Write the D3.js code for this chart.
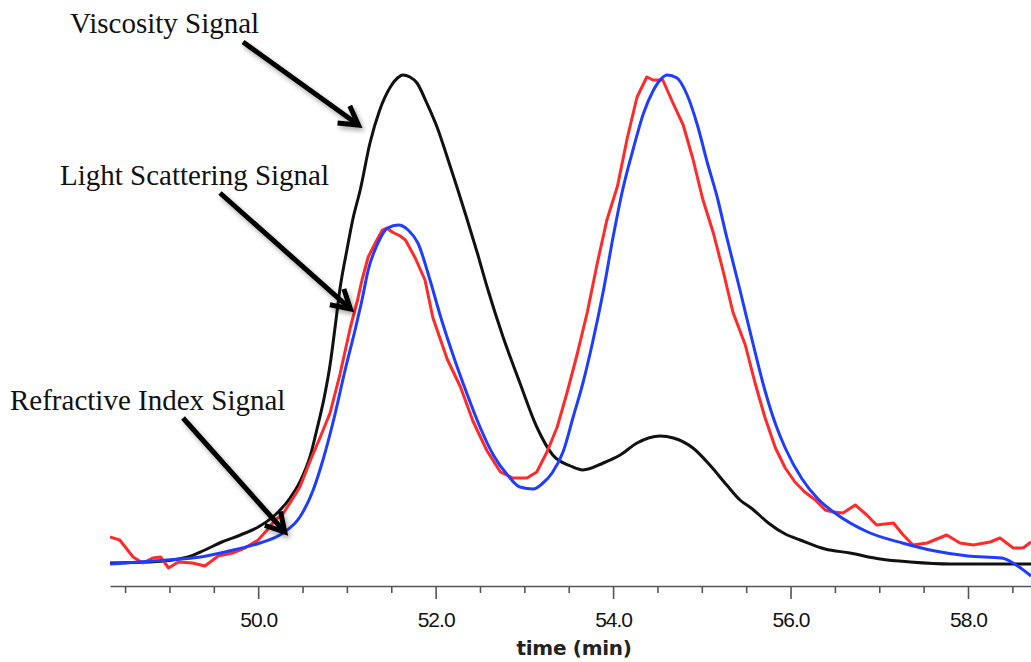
<!DOCTYPE html>
<html>
<head>
<meta charset="utf-8">
<script src="https://cdn.jsdelivr.net/npm/d3@7"></script>
<style>
  body { margin: 0; background: #fff; }
</style>
</head>
<body>
<div id="chart"></div>
<script>
// Signal traces, [time (min), relative response]
const viscositySignal = [
  [48.33,0.2],[48.78,0.3],[49.21,0.8],[49.40,1.5],[49.59,2.3],[49.80,3.0],[50.00,3.8],[50.19,5.0],
  [50.36,6.7],[50.47,8.3],[50.59,11.0],[50.66,13.5],[50.75,17.0],[50.81,20.0],[50.87,24.0],[50.92,27.5],
  [51.00,31.5],[51.07,34.7],[51.15,37.5],[51.26,42.2],[51.37,45.5],[51.49,47.8],[51.57,48.7],[51.63,49.0],
  [51.71,48.8],[51.79,48.2],[51.90,46.2],[52.02,43.7],[52.13,40.8],[52.24,37.8],[52.35,34.7],[52.47,31.2],
  [52.58,27.8],[52.76,22.8],[52.95,18.2],[53.14,13.8],[53.32,11.0],[53.52,9.9],[53.66,9.5],[53.89,10.2],
  [54.08,11.0],[54.27,12.2],[54.53,12.9],[54.68,12.7],[54.90,11.7],[55.09,10.0],[55.28,8.0],[55.43,6.5],
  [55.57,5.6],[55.75,4.2],[55.94,3.1],[56.11,2.5],[56.39,1.6],[56.67,1.2],[57.01,0.6],[57.35,0.3],
  [57.80,0.1],[58.36,0.1],[58.71,0.1]
];

const lightScatteringSignal = [
  [48.33,2.8],[48.44,2.5],[48.59,0.8],[48.70,0.2],[48.81,0.7],[48.90,0.8],[48.99,-0.3],[49.10,0.3],
  [49.26,0.2],[49.40,-0.1],[49.55,0.9],[49.71,1.2],[49.85,1.7],[50.00,2.5],[50.10,3.5],[50.19,4.5],
  [50.27,5.0],[50.38,6.5],[50.47,7.8],[50.59,10.5],[50.70,12.8],[50.81,15.2],[50.92,19.0],[51.04,23.8],
  [51.12,26.5],[51.17,28.5],[51.24,30.8],[51.32,32.2],[51.40,33.5],[51.45,33.7],[51.51,33.3],[51.60,32.9],
  [51.66,32.5],[51.77,30.7],[51.88,28.5],[51.97,24.7],[52.13,20.6],[52.28,17.8],[52.42,14.4],[52.58,11.4],
  [52.73,9.3],[52.87,8.7],[52.95,8.7],[53.03,8.7],[53.14,9.3],[53.26,11.4],[53.37,13.8],[53.48,17.2],
  [53.59,20.9],[53.71,25.3],[53.82,30.1],[53.93,34.5],[54.05,37.9],[54.16,42.7],[54.27,46.8],[54.38,48.8],
  [54.45,48.5],[54.56,48.5],[54.68,46.1],[54.79,44.0],[54.90,40.6],[55.01,36.6],[55.13,33.2],[55.24,29.4],
  [55.35,25.3],[55.49,22.0],[55.60,18.2],[55.71,14.8],[55.83,11.7],[55.94,9.7],[56.05,8.3],[56.16,7.3],
  [56.28,6.5],[56.39,5.5],[56.48,5.3],[56.59,5.2],[56.73,6.0],[56.86,5.0],[56.97,4.0],[57.16,4.2],
  [57.27,3.0],[57.38,2.0],[57.54,2.2],[57.76,3.0],[57.91,2.2],[58.06,2.0],[58.25,2.3],[58.36,2.7],
  [58.51,1.7],[58.62,1.7],[58.71,2.3]
];

const refractiveIndexSignal = [
  [48.33,0.1],[48.97,0.5],[49.35,0.8],[49.72,1.5],[50.02,2.2],[50.28,3.2],[50.47,4.8],[50.62,7.5],
  [50.73,10.5],[50.85,14.5],[50.98,19.5],[51.10,23.8],[51.17,26.5],[51.24,29.5],[51.35,32.2],[51.46,33.7],
  [51.58,34.0],[51.69,33.5],[51.80,32.2],[51.94,28.4],[52.05,25.0],[52.20,20.9],[52.35,17.2],[52.50,13.8],
  [52.65,11.0],[52.81,9.0],[52.95,7.8],[53.10,7.6],[53.21,8.2],[53.32,9.3],[53.44,11.4],[53.55,14.8],
  [53.66,18.2],[53.77,22.3],[53.89,27.4],[54.00,32.8],[54.11,37.6],[54.23,41.7],[54.34,45.1],[54.45,47.4],
  [54.53,48.5],[54.61,49.0],[54.72,48.7],[54.83,47.1],[54.95,44.0],[55.06,40.3],[55.17,36.9],[55.28,32.8],
  [55.43,27.5],[55.60,21.3],[55.71,17.5],[55.83,14.1],[55.94,11.7],[56.13,8.6],[56.31,6.6],[56.50,5.2],
  [56.87,3.3],[57.26,2.2],[57.63,1.4],[58.00,0.9],[58.38,0.7],[58.56,-0.1],[58.71,-1.1]
];

const majorTicks = [50, 52, 54, 56, 58];
const majorLabels = ['50.0', '52.0', '54.0', '56.0', '58.0'];
const minorTicks = [48.5, 49, 49.5, 50.5, 51, 51.5, 52.5, 53, 53.5, 54.5, 55, 55.5, 56.5, 57, 57.5, 58.5];

const width = 1031, height = 662;
const axisY = 586;

const svg = d3.select('#chart').append('svg')
    .attr('width', width)
    .attr('height', height)
    .style('font-family', 'DejaVu Sans, sans-serif');

const x = d3.scaleLinear().domain([48.33, 58.71]).range([110, 1031]);
const y = d3.scaleLinear().domain([0, 49]).range([565, 75]);

const defs = svg.append('defs');
defs.append('clipPath').attr('id', 'plotClip')
    .append('rect').attr('x', 110).attr('y', 0).attr('width', 921).attr('height', axisY);
let shadow = defs.append('filter').attr('id', 'shadow')
    .attr('x', '-20%').attr('y', '-20%').attr('width', '140%').attr('height', '140%');
shadow.append('feDropShadow')
    .attr('dx', 2).attr('dy', 3).attr('stdDeviation', 2.5)
    .attr('flood-color', '#000').attr('flood-opacity', 0.35);

// Traces
const series = [
  {data: viscositySignal, color: '#111111', curve: d3.curveMonotoneX},
  {data: lightScatteringSignal, color: '#ff2a2a', curve: d3.curveLinear},
  {data: refractiveIndexSignal, color: '#1f3dff', curve: d3.curveMonotoneX}
];

const gLines = svg.append('g').attr('clip-path', 'url(#plotClip)');
series.forEach(s => {
  let line = d3.line()
      .x(d => x(d[0]))
      .y(d => y(d[1]))
      .curve(s.curve);
  gLines.append('path')
      .datum(s.data)
      .attr('d', line)
      .attr('fill', 'none')
      .attr('stroke', s.color)
      .attr('stroke-width', 3)
      .attr('stroke-linejoin', 'round');
});

// Axis: minor ticks, then major ticks with labels
const gMinor = svg.append('g')
    .attr('transform', `translate(0,${axisY})`)
    .call(d3.axisBottom(x).tickValues(minorTicks).tickSize(7).tickSizeOuter(0).tickFormat(''));
gMinor.select('.domain').remove();

const gMajor = svg.append('g')
    .attr('transform', `translate(0,${axisY})`)
    .call(d3.axisBottom(x).tickValues(majorTicks).tickSize(13).tickSizeOuter(0)
        .tickFormat((d, i) => majorLabels[i]));

svg.selectAll('.domain, .tick line')
    .attr('stroke', '#555')
    .attr('stroke-width', 1.6);
gMajor.selectAll('.tick text')
    .attr('y', 41)
    .attr('dy', 0)
    .attr('fill', '#111')
    .style('font-size', '21px')
    .style('letter-spacing', '-1px');

svg.append('text')
    .attr('x', x(53.56))
    .attr('y', 655)
    .attr('text-anchor', 'middle')
    .attr('fill', '#222')
    .style('font-size', '20px')
    .style('font-weight', 'bold')
    .style('letter-spacing', '-0.3px')
    .text('time (min)');

// Annotations: label, arrow start (px) and arrow tip in data units
const annotations = [
  {label: 'Viscosity Signal', lx: 70, ly: 33, from: [243, 42], tip: [51.13, 44.0]},
  {label: 'Light Scattering Signal', lx: 60, ly: 185, from: [220, 193], tip: [51.04, 25.6]},
  {label: 'Refractive Index Signal', lx: 10, ly: 410, from: [183, 418], tip: [50.30, 3.3]}
];

const gAnn = svg.append('g');
annotations.forEach(a => {
  gAnn.append('text')
      .attr('x', a.lx)
      .attr('y', a.ly)
      .attr('fill', '#111')
      .style('font-family', 'Liberation Serif, Times New Roman, serif')
      .style('font-size', '29px')
      .text(a.label);

  let tx = x(a.tip[0]), ty = y(a.tip[1]);
  let ang = Math.atan2(ty - a.from[1], tx - a.from[0]);
  let len = 21, spread = Math.PI / 6;
  let head = [
    [tx - len * Math.cos(ang - spread), ty - len * Math.sin(ang - spread)],
    [tx, ty],
    [tx - len * Math.cos(ang + spread), ty - len * Math.sin(ang + spread)]
  ];
  let arrow = gAnn.append('g').attr('filter', 'url(#shadow)');
  arrow.append('line')
      .attr('x1', a.from[0]).attr('y1', a.from[1])
      .attr('x2', tx - 2 * Math.cos(ang)).attr('y2', ty - 2 * Math.sin(ang))
      .attr('stroke', '#000')
      .attr('stroke-width', 5);
  arrow.append('path')
      .attr('d', d3.line()(head))
      .attr('fill', 'none')
      .attr('stroke', '#000')
      .attr('stroke-width', 5)
      .attr('stroke-linejoin', 'miter');
});
</script>
</body>
</html>
